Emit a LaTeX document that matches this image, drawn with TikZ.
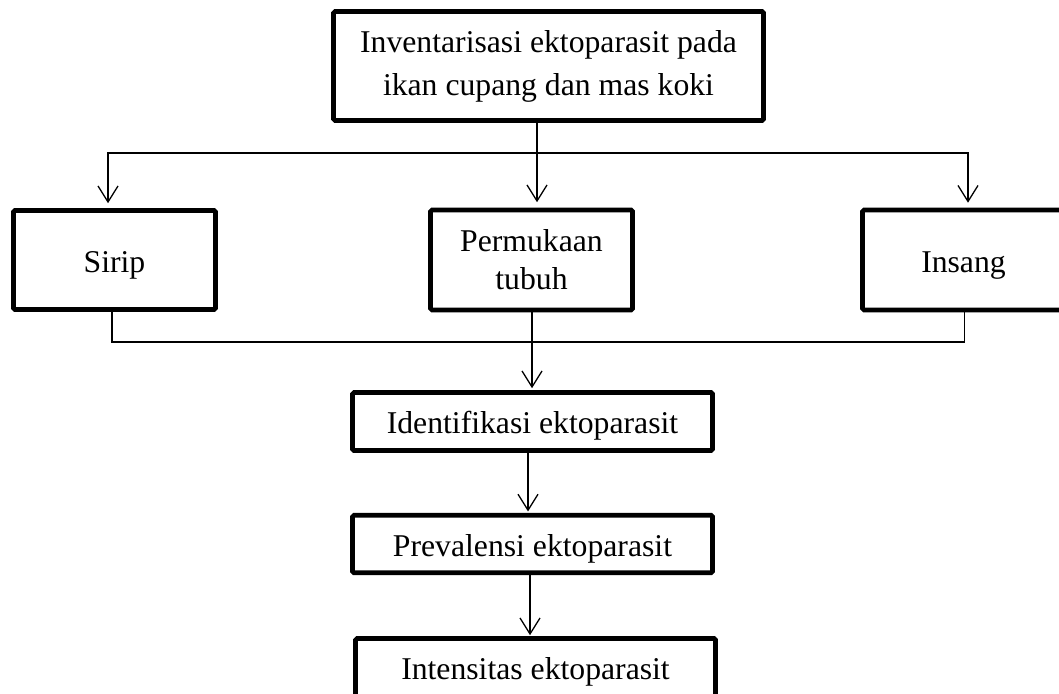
\documentclass[tikz,border=0pt]{standalone}
\usepackage{fontspec}
\setmainfont{Liberation Serif}
\usetikzlibrary{arrows.meta,positioning,calc}
\tikzset{
  kotak/.style={rectangle,draw=black,line width=4.6pt,rounded corners=1.5pt,
                inner sep=0pt,align=center,
                font=\fontsize{31.7}{37.7}\selectfont},
  satu/.style={text height=24pt,text depth=0pt},
  garis/.style={line width=1.3pt},
  alur/.style={-{Straight Barb[length=16pt,width=20pt]},line width=1.3pt},
}
\begin{document}
\begin{tikzpicture}[x=1pt,y=-1pt]
\useasboundingbox (0,0) rectangle (1059,693);
\clip (0,0) rectangle (1059,693);
% kotak
\node[kotak,minimum width=430pt,minimum height=109pt,
      font=\fontsize{31.7}{43}\selectfont] (judul) at (548.5,66)
  {Inventarisasi ektoparasit pada\\ikan cupang dan mas koki};
\node[kotak,satu,minimum width=202pt,minimum height=99pt] (sirip) at (114.5,260) {Sirip};
\node[kotak,minimum width=202pt,minimum height=100pt] (tubuh) at (531.5,260) {Permukaan\\tubuh};
\node[kotak,satu,minimum width=202pt,minimum height=100pt] (insang) at (963.5,260) {Insang};
\node[kotak,satu,minimum width=360pt,minimum height=58pt] (ident) at (532.5,421.5) {Identifikasi ektoparasit};
\node[kotak,satu,minimum width=360pt,minimum height=57.5pt] (prev) at (532.5,544) {Prevalensi ektoparasit};
\node[kotak,satu,minimum width=360pt,minimum height=58pt] (inten) at (535.5,667.5) {Intensitas ektoparasit};
% cabang atas
\coordinate (cabang) at (537,153);
\draw[alur,shorten >=5.5pt] ([xshift=-11.5pt]judul.south) -- ([xshift=5.5pt]tubuh.north);
\draw[alur,shorten >=5pt] (cabang) -| ([xshift=-6.5pt]sirip.north);
\draw[alur,shorten >=5pt] (cabang) -| ([xshift=4.5pt]insang.north);
% gabung bawah
\coordinate (gabung) at (532,342);
\draw[garis] ([xshift=-2.5pt]sirip.south) |- (gabung) -| ([xshift=1pt]insang.south);
\draw[alur,shorten >=2pt] ([xshift=0.5pt]tubuh.south) -- ([xshift=-0.5pt]ident.north);
\draw[alur,shorten >=1.5pt] ([xshift=-4.5pt]ident.south) -- ([xshift=-4.5pt]prev.north);
\draw[alur,shorten >=1pt] ([xshift=-2.5pt]prev.south) -- ([xshift=-5.5pt]inten.north);
\end{tikzpicture}
\end{document}
